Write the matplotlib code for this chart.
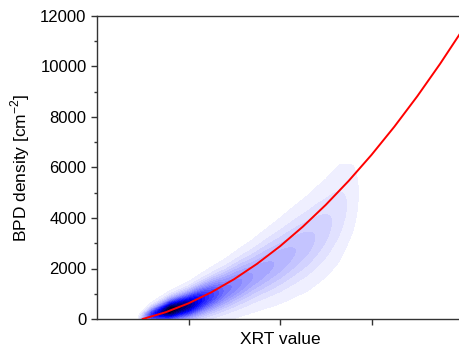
import numpy as np
import matplotlib
matplotlib.use("Agg")
import matplotlib.pyplot as plt
from matplotlib.colors import LinearSegmentedColormap

plt.rcParams['font.family'] = ['Liberation Sans', 'DejaVu Sans']
plt.rcParams['mathtext.fontset'] = 'custom'
plt.rcParams['mathtext.rm'] = 'Liberation Sans'

# density ridge (x in tick units, y in cm^-2)
ridge_x = [0.45, 0.6, 0.8, 1.0, 1.2, 1.4, 1.7, 2.0, 2.3, 2.5, 2.65, 2.8, 2.9]
ridge_center = [0, 150, 350, 550, 850, 1150, 1700, 2300, 3000, 3600, 4200, 4800, 5100]
ridge_spread = [100, 200, 280, 340, 420, 500, 620, 760, 900, 1000, 1100, 1000, 800]
ridge_amp = [0.0, 0.6, 1.0, 0.85, 0.6, 0.42, 0.3, 0.24, 0.18, 0.13, 0.09, 0.045, 0.0]

# red fit curve
fit_x = [0.5, 0.75, 1.0, 1.25, 1.5, 1.75, 2.0, 2.25, 2.5, 2.75, 3.0, 3.25, 3.5, 3.75, 4.0]
fit_y = [0, 268, 620, 1058, 1580, 2188, 2880, 3658, 4520, 5468, 6500, 7618, 8820, 10108, 11480]

y_ticks = [0, 2000, 4000, 6000, 8000, 10000, 12000]
x_ticks = [1, 2, 3]

# build density field from ridge profile
gx = np.linspace(0.3, 3.2, 300)
gy = np.linspace(0, 8000, 300)
X, Y = np.meshgrid(gx, gy)
c = np.interp(X, ridge_x, ridge_center)
s = np.interp(X, ridge_x, ridge_spread)
a = np.interp(X, ridge_x, ridge_amp)
Z = a * np.exp(-(Y - c) ** 2 / (2 * s ** 2))

cmap = LinearSegmentedColormap.from_list(
    "bw", [(0, "#f6f6ff"), (0.35, "#8c8cff"), (0.7, "#0000ff"), (1, "#000010")])

fig = plt.figure(figsize=(4.6, 3.54), dpi=100)
ax = fig.add_axes([97 / 460, 35 / 354, 366 / 460, 303 / 354])

ax.contourf(X, Y, Z, levels=np.linspace(0.02, 1.0, 22), cmap=cmap, zorder=1)
ax.plot(fit_x, fit_y, color="red", lw=1.4, zorder=3)

ax.set_xlim(0, 4)
ax.set_ylim(0, 12000)
ax.set_xticks(x_ticks)
ax.set_xticklabels([])
ax.set_yticks(y_ticks)
ax.set_yticks(np.arange(1000, 12000, 2000), minor=True)
ax.tick_params(axis="both", which="major", direction="out", length=4,
               width=1, color="#333333", labelsize=12)
ax.tick_params(axis="y", which="minor", direction="out", length=2.5,
               width=1, color="#333333")
for sp in ax.spines.values():
    sp.set_color("#333333")
    sp.set_linewidth(1)

ax.set_xlabel("XRT value", fontsize=12.5, labelpad=2)
ax.set_ylabel("BPD density [cm$^{-2}$]", fontsize=12.5, labelpad=6)

fig.savefig("out.png", dpi=100)
